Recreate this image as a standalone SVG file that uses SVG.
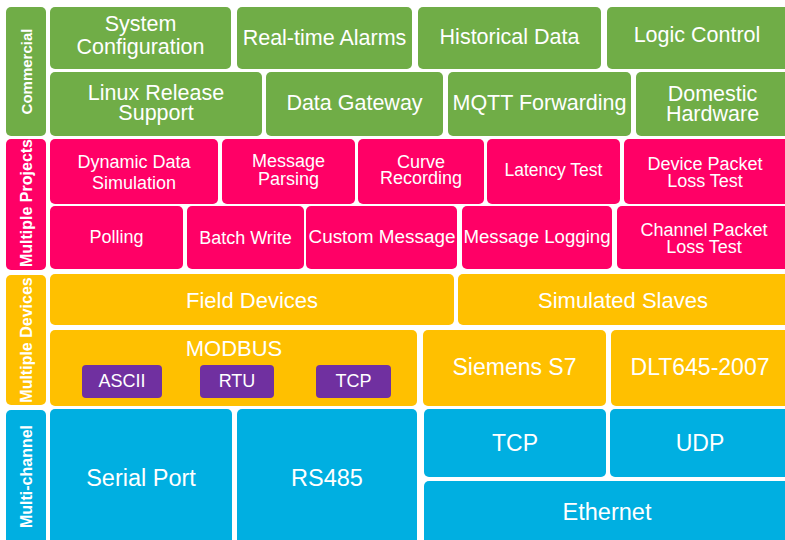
<svg xmlns="http://www.w3.org/2000/svg" width="785" height="540" viewBox="0 0 785 540">
<style>
  text { font-family: "Liberation Sans", Arial, sans-serif; fill: #ffffff; text-anchor: middle; dominant-baseline: central; }
  .g { fill: #70AD47; }
  .p { fill: #FF0066; }
  .y { fill: #FFC000; }
  .b { fill: #00AFE1; }
  .v { fill: #7030A0; }
  .side { font-weight: bold; font-size: 16px; }
  .tg { font-size: 21.5px; }
  .tp { font-size: 18px; }
  .ty { font-size: 23px; }
  .tb { font-size: 23.5px; }
  .tv { font-size: 18px; }
</style>
<rect width="785" height="540" fill="#ffffff"/>

<!-- Side labels -->
<g id="side-commercial"><rect class="g" x="6" y="7" width="40" height="129" rx="5"/><text class="side" style="font-size:15px" transform="translate(26.5,71.5) rotate(-90)">Commercial</text></g>
<g id="side-projects"><rect class="p" x="6" y="139" width="40" height="131" rx="5"/><text class="side" transform="translate(26.5,203) rotate(-90)">Multiple Projects</text></g>
<g id="side-devices"><rect class="y" x="6" y="275" width="40" height="130" rx="5"/><text class="side" transform="translate(26.5,340) rotate(-90)">Multiple Devices</text></g>
<g id="side-channel"><rect class="b" x="6" y="410" width="40" height="135" rx="5"/><text class="side" transform="translate(26.5,476.5) rotate(-90)">Multi-channel</text></g>

<!-- Commercial row 1 -->
<g id="sys-config"><rect class="g" x="50" y="7" width="181" height="62" rx="5"/><text class="tg" x="140.5" y="24">System</text><text class="tg" x="140.5" y="47">Configuration</text></g>
<g id="alarms"><rect class="g" x="237" y="7" width="175" height="62" rx="5"/><text class="tg" x="324.5" y="37.5">Real-time Alarms</text></g>
<g id="historical"><rect class="g" x="418" y="7" width="183" height="62" rx="5"/><text class="tg" x="509.5" y="37">Historical Data</text></g>
<g id="logic"><rect class="g" x="607" y="7" width="183" height="62" rx="5"/><text class="tg" x="697" y="35">Logic Control</text></g>
<!-- Commercial row 2 -->
<g id="linux"><rect class="g" x="50" y="72" width="212" height="64" rx="5"/><text class="tg" x="156" y="92.5">Linux Release</text><text class="tg" x="156" y="112.5">Support</text></g>
<g id="gateway"><rect class="g" x="266" y="72" width="177" height="64" rx="5"/><text class="tg" x="354.5" y="103">Data Gateway</text></g>
<g id="mqtt"><rect class="g" x="448" y="72" width="183" height="64" rx="5"/><text class="tg" x="539.5" y="103">MQTT Forwarding</text></g>
<g id="domestic"><rect class="g" x="636" y="72" width="154" height="64" rx="5"/><text class="tg" x="712.5" y="93.5">Domestic</text><text class="tg" x="712.5" y="113.5">Hardware</text></g>

<!-- Projects row 1 -->
<g id="dyn-sim"><rect class="p" x="50" y="139" width="168" height="65" rx="5"/><text class="tp" x="134" y="162">Dynamic Data</text><text class="tp" x="134" y="182.5">Simulation</text></g>
<g id="msg-parse"><rect class="p" x="222" y="139" width="133" height="65" rx="5"/><text class="tp" x="288.5" y="160.5">Message</text><text class="tp" x="288.5" y="179">Parsing</text></g>
<g id="curve"><rect class="p" x="358" y="139" width="126" height="65" rx="5"/><text class="tp" x="421" y="161.5">Curve</text><text class="tp" x="421" y="178">Recording</text></g>
<g id="latency"><rect class="p" x="487" y="139" width="133" height="65" rx="5"/><text class="tp" x="553.5" y="170" style="font-size:17.5px">Latency Test</text></g>
<g id="dev-loss"><rect class="p" x="624" y="139" width="166" height="65" rx="5"/><text class="tp" x="705" y="163.5">Device Packet</text><text class="tp" x="705" y="180.5">Loss Test</text></g>
<!-- Projects row 2 -->
<g id="polling"><rect class="p" x="50" y="206" width="133" height="63" rx="5"/><text class="tp" x="116.5" y="236.5">Polling</text></g>
<g id="batch"><rect class="p" x="187" y="206" width="117" height="63" rx="5"/><text class="tp" x="245.5" y="238">Batch Write</text></g>
<g id="custom"><rect class="p" x="306" y="206" width="151" height="63" rx="5"/><text class="tp" x="382" y="236.5" textLength="147" lengthAdjust="spacingAndGlyphs">Custom Message</text></g>
<g id="logging"><rect class="p" x="462" y="206" width="150" height="63" rx="5"/><text class="tp" x="537" y="236.5" textLength="147" lengthAdjust="spacingAndGlyphs">Message Logging</text></g>
<g id="chan-loss"><rect class="p" x="617" y="206" width="173" height="63" rx="5"/><text class="tp" x="704" y="230">Channel Packet</text><text class="tp" x="704" y="247">Loss Test</text></g>

<!-- Devices -->
<g id="field"><rect class="y" x="50" y="274" width="404" height="51" rx="5"/><text class="ty" style="font-size:22px" x="252" y="300">Field Devices</text></g>
<g id="slaves"><rect class="y" x="458" y="274" width="332" height="51" rx="5"/><text class="ty" style="font-size:22px" x="623" y="300">Simulated Slaves</text></g>
<g id="modbus"><rect class="y" x="50" y="330" width="367" height="76" rx="5"/><text class="ty" style="font-size:22px" x="234" y="348">MODBUS</text>
  <g id="modbus-ascii"><rect class="v" x="82" y="365" width="80" height="33" rx="4"/><text class="tv" x="122" y="381">ASCII</text></g>
  <g id="modbus-rtu"><rect class="v" x="200" y="365" width="74" height="33" rx="4"/><text class="tv" x="237" y="381">RTU</text></g>
  <g id="modbus-tcp"><rect class="v" x="316" y="365" width="75" height="33" rx="4"/><text class="tv" x="353.5" y="381">TCP</text></g>
</g>
<g id="siemens"><rect class="y" x="423" y="330" width="183" height="76" rx="5"/><text class="ty" x="514.5" y="367">Siemens S7</text></g>
<g id="dlt"><rect class="y" x="611" y="330" width="179" height="76" rx="5"/><text class="ty" x="700" y="367">DLT645-2007</text></g>

<!-- Channels -->
<g id="serial"><rect class="b" x="50" y="409" width="182" height="136" rx="5"/><text class="tb" x="141" y="477.5">Serial Port</text></g>
<g id="rs485"><rect class="b" x="237" y="409" width="180" height="136" rx="5"/><text class="tb" x="327" y="477.5">RS485</text></g>
<g id="tcp"><rect class="b" x="424" y="409" width="182" height="68" rx="5"/><text class="tb" style="font-size:23px" x="515" y="442.5">TCP</text></g>
<g id="udp"><rect class="b" x="610" y="409" width="180" height="68" rx="5"/><text class="tb" style="font-size:23px" x="700" y="442.5">UDP</text></g>
<g id="ethernet"><rect class="b" x="424" y="481" width="366" height="64" rx="5"/><text class="tb" x="607" y="512">Ethernet</text></g>
</svg>
